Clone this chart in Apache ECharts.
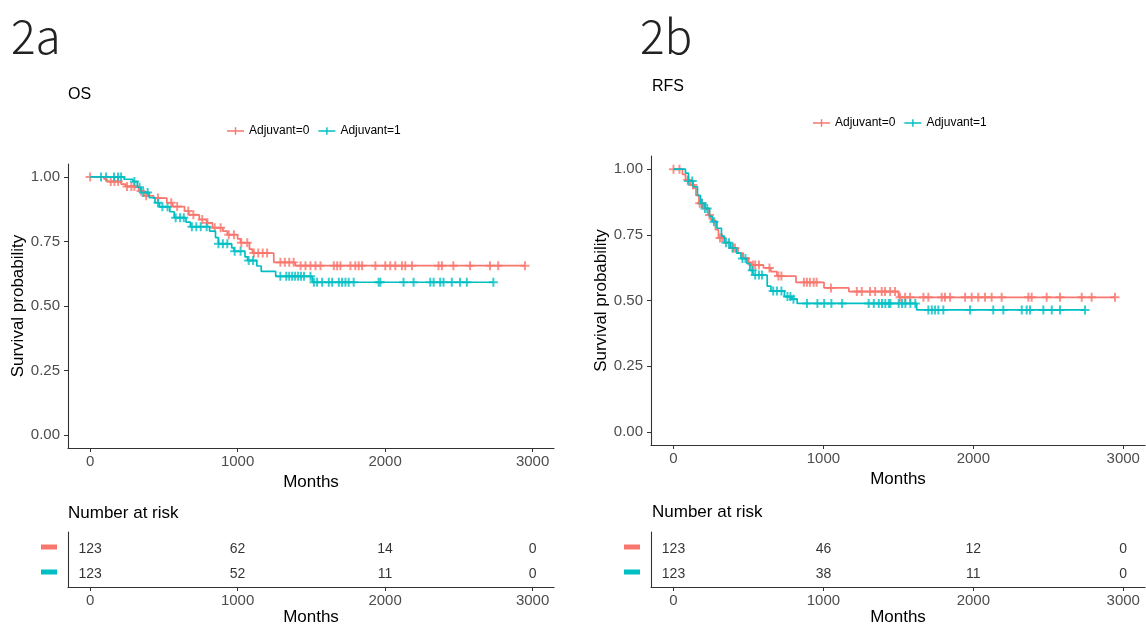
<!DOCTYPE html>
<html>
<head>
<meta charset="utf-8">
<script src="https://cdn.jsdelivr.net/npm/echarts@6/dist/echarts.min.js"></script>
<style>
  html, body { margin: 0; padding: 0; background: #fff; }
  #main { width: 1146px; height: 628px; }
</style>
</head>
<body>
<div id="main"></div>
<script>
// ---- data ----
// OS (2a), Adjuvant=0 : step times / survival after each drop
const osT0 = [0, 95, 115, 210, 240, 330, 365, 430, 520, 560, 640, 670, 740, 790, 830, 900, 930, 1000, 1020, 1080, 1100, 1245, 1390];
const osS0 = [1, 0.991, 0.982, 0.972, 0.963, 0.945, 0.927, 0.918, 0.9, 0.885, 0.868, 0.853, 0.835, 0.822, 0.803, 0.79, 0.776, 0.76, 0.745, 0.72, 0.705, 0.669, 0.656];
const osEnd0 = 2948;
const osCens0 = [0, 140, 165, 190, 250, 280, 300, 345, 380, 460, 550, 590, 665, 700, 760, 795, 845, 885, 940, 975, 1025, 1065, 1110, 1140, 1170, 1200,
  1290, 1320, 1350, 1380, 1427, 1460, 1494, 1528, 1562, 1652, 1675, 1697, 1765, 1798, 1821, 1844, 1934, 2001, 2035, 2069, 2114, 2137, 2182,
  2362, 2385, 2463, 2576, 2711, 2767, 2948];
// OS (2a), Adjuvant=1
const osT1 = [0, 230, 290, 320, 345, 400, 440, 470, 540, 570, 650, 680, 810, 850, 870, 960, 975, 1050, 1068, 1130, 1160, 1258, 1506];
const osS1 = [1, 0.991, 0.982, 0.96, 0.94, 0.92, 0.9, 0.884, 0.865, 0.842, 0.825, 0.807, 0.79, 0.765, 0.741, 0.725, 0.712, 0.69, 0.676, 0.655, 0.634, 0.615, 0.592];
const osEnd1 = 2734;
const osCens1 = [74, 108, 162, 189, 210, 300, 335, 360, 390, 460, 490, 525, 580, 610, 635, 690, 720, 750, 790, 870, 900, 930, 980, 1020, 1075, 1105,
  1290, 1330, 1350, 1370, 1390, 1410, 1430, 1450, 1494, 1517, 1539, 1573, 1618, 1641, 1686, 1708, 1731, 1753, 1787, 1956, 1968, 2125, 2193,
  2306, 2329, 2373, 2396, 2452, 2508, 2554, 2734];

// RFS (2b), Adjuvant=0
const rfsT0 = [0, 60, 80, 110, 135, 150, 170, 200, 230, 250, 280, 300, 340, 380, 430, 465, 500, 520, 600, 650, 690, 817, 1004, 1170, 1501];
const rfsS0 = [1, 0.98, 0.959, 0.94, 0.928, 0.9, 0.87, 0.85, 0.825, 0.806, 0.77, 0.738, 0.72, 0.7, 0.68, 0.662, 0.645, 0.635, 0.624, 0.61, 0.593, 0.569, 0.548, 0.534, 0.512];
const rfsEnd0 = 2945;
const rfsCens0 = [0, 40, 95, 130, 175, 190, 240, 310, 325, 395, 410, 530, 545, 570, 640, 700, 720, 870, 890, 910, 935, 955, 1050,
  1223, 1256, 1311, 1345, 1389, 1411, 1445, 1478, 1511, 1545, 1578, 1667, 1700, 1789, 1811, 1845, 1945, 1989, 2033, 2078, 2122, 2189,
  2367, 2389, 2489, 2578, 2723, 2789, 2945];
// RFS (2b), Adjuvant=1
const rfsT1 = [0, 80, 100, 130, 160, 180, 210, 240, 260, 290, 320, 340, 380, 420, 450, 490, 510, 530, 625, 650, 740, 790, 825, 1622];
const rfsS1 = [1, 0.985, 0.955, 0.933, 0.9, 0.87, 0.85, 0.82, 0.8, 0.775, 0.745, 0.72, 0.7, 0.68, 0.66, 0.64, 0.615, 0.597, 0.555, 0.536, 0.515, 0.505, 0.489, 0.464];
const rfsEnd1 = 2745;
const rfsCens1 = [100, 125, 190, 210, 225, 270, 350, 370, 395, 460, 480, 525, 545, 570, 590, 665, 690, 720, 760, 780, 800, 890, 960, 1005, 1053, 1125,
  1302, 1336, 1369, 1391, 1413, 1436, 1447, 1502, 1524, 1547, 1580, 1613, 1700, 1723, 1745, 1767, 1800, 1978, 2133, 2200, 2323, 2356,
  2378, 2467, 2523, 2578, 2745];

// number at risk tables
const riskTimes = [0, 1000, 2000, 3000];
const osRisk0 = [123, 62, 14, 0];
const osRisk1 = [123, 52, 11, 0];
const rfsRisk0 = [123, 46, 12, 0];
const rfsRisk1 = [123, 38, 11, 0];

const groups = ['Adjuvant=0', 'Adjuvant=1'];
const xTicks = [0, 1000, 2000, 3000];
const yTicks = [0, 0.25, 0.5, 0.75, 1];

// ---- helpers ----
const RED = '#F8766D', TEAL = '#00BFC4';
const FONT = '"Liberation Sans", Arial, sans-serif';
const PLUS = 'path://M3.9,0H6.1V3.9H10V6.1H6.1V10H3.9V6.1H0V3.9H3.9Z';
const LEG_ICON = 'path://M0,4.1H10.1V0H11.9V4.1H22V5.9H11.9V10H10.1V5.9H0Z';

function stepData(t, s, end) {
  const d = t.map((x, i) => [x, s[i]]);
  d.push([end, s[s.length - 1]]);
  return d;
}
function survAt(t, s, x) {
  let v = s[0];
  for (let i = 0; i < t.length; i++) { if (t[i] <= x) v = s[i]; }
  return v;
}
function censData(t, s, cens) {
  return cens.map(c => [c, survAt(t, s, c)]);
}
function riskData(vals, row) {
  return riskTimes.map((x, i) => [x, row, vals[i]]);
}

function kmX(gi) {
  return {
    gridIndex: gi, type: 'value', min: -150, max: 3145,
    axisLine: { onZero: false, lineStyle: { color: '#333', width: 1.1 } },
    axisTick: { customValues: xTicks, length: 4, lineStyle: { color: '#333' } },
    axisLabel: { customValues: xTicks, color: '#4d4d4d', fontSize: 15, margin: 6, fontFamily: FONT,
      formatter: v => String(v) },
    splitLine: { show: false },
    name: 'Months', nameLocation: 'middle', nameGap: 26,
    nameTextStyle: { fontSize: 17, color: '#000', fontFamily: FONT }
  };
}
function kmY(gi) {
  return {
    gridIndex: gi, type: 'value', min: -0.05, max: 1.05,
    axisLine: { show: true, onZero: false, lineStyle: { color: '#333', width: 1.1 } },
    axisTick: { show: true, customValues: yTicks, length: 4, lineStyle: { color: '#333' } },
    axisLabel: { customValues: yTicks, color: '#4d4d4d', fontSize: 15, margin: 8, fontFamily: FONT,
      formatter: v => v.toFixed(2) },
    splitLine: { show: false },
    name: 'Survival probability', nameLocation: 'middle', nameGap: 39, nameRotate: 90,
    nameTextStyle: { fontSize: 17, color: '#000', fontFamily: FONT }
  };
}
function riskX(gi) {
  const a = kmX(gi);
  a.nameGap = 22;
  return a;
}
function riskY(gi) {
  return {
    gridIndex: gi, type: 'value', min: 0.4, max: 2.6,
    axisLine: { show: true, onZero: false, lineStyle: { color: '#333', width: 1.1 } },
    axisTick: { show: false },
    splitLine: { show: false },
    axisLabel: {
      customValues: [1, 2], margin: 11,
      formatter: v => v === 2 ? '{r| }' : '{t| }',
      rich: {
        r: { width: 16, height: 5, lineHeight: 5, fontSize: 4, backgroundColor: RED },
        t: { width: 16, height: 5, lineHeight: 5, fontSize: 4, backgroundColor: TEAL }
      }
    }
  };
}
function lineSeries(name, color, gi, data) {
  return {
    name: name, type: 'line', step: 'end', xAxisIndex: gi, yAxisIndex: gi,
    data: data, showSymbol: false, symbol: PLUS, color: color,
    lineStyle: { color: color, width: 1.7 }, silent: true
  };
}
function censSeries(color, gi, data) {
  return {
    name: 'censor', type: 'scatter', xAxisIndex: gi, yAxisIndex: gi,
    data: data, symbol: PLUS, symbolSize: 9, itemStyle: { color: color }, silent: true
  };
}
function riskSeries(gi, data) {
  return {
    name: 'risk', type: 'scatter', xAxisIndex: gi, yAxisIndex: gi, data: data,
    symbolSize: 1, itemStyle: { color: 'rgba(0,0,0,0)' }, silent: true,
    label: { show: true, position: 'inside', offset: [0, 2], formatter: p => p.value[2],
      color: '#000', fontSize: 14, fontFamily: FONT }
  };
}
function legend(left, top) {
  return {
    data: groups, left: left, top: top, padding: 0, icon: LEG_ICON,
    itemWidth: 17, itemHeight: 9, itemGap: 9,
    textStyle: { fontSize: 12, color: '#000', fontFamily: FONT }
  };
}

const TITLE_FONT = '"Noto Sans CJK KR", "Noto Sans", sans-serif';
const chart = echarts.init(document.getElementById('main'), null, { renderer: 'canvas' });
chart.setOption({
  animation: false,
  backgroundColor: '#fff',
  title: [
    { text: '2a', left: 11, top: 14, padding: 0, textStyle: { fontSize: 46, fontWeight: 300, color: '#222', fontFamily: TITLE_FONT } },
    { text: '2b', left: 640, top: 14, padding: 0, textStyle: { fontSize: 46, fontWeight: 300, color: '#222', fontFamily: TITLE_FONT } },
    { text: 'OS', left: 68, top: 87, padding: 0, textStyle: { fontSize: 16, fontWeight: 'normal', color: '#000', fontFamily: FONT } },
    { text: 'RFS', left: 652, top: 79, padding: 0, textStyle: { fontSize: 16, fontWeight: 'normal', color: '#000', fontFamily: FONT } },
    { text: 'Number at risk', left: 68, top: 505, padding: 0, textStyle: { fontSize: 17, fontWeight: 'normal', color: '#000', fontFamily: FONT } },
    { text: 'Number at risk', left: 652, top: 504, padding: 0, textStyle: { fontSize: 17, fontWeight: 'normal', color: '#000', fontFamily: FONT } }
  ],
  legend: [legend(227, 125), legend(813, 117)],
  grid: [
    { left: 68, top: 164, width: 486, height: 284 },
    { left: 68, top: 532, width: 486, height: 55 },
    { left: 651, top: 156, width: 494, height: 289 },
    { left: 651, top: 532, width: 494, height: 55 }
  ],
  xAxis: [kmX(0), riskX(1), kmX(2), riskX(3)],
  yAxis: [kmY(0), riskY(1), kmY(2), riskY(3)],
  series: [
    lineSeries(groups[0], RED, 0, stepData(osT0, osS0, osEnd0)),
    lineSeries(groups[1], TEAL, 0, stepData(osT1, osS1, osEnd1)),
    censSeries(RED, 0, censData(osT0, osS0, osCens0)),
    censSeries(TEAL, 0, censData(osT1, osS1, osCens1)),
    riskSeries(1, riskData(osRisk0, 2).concat(riskData(osRisk1, 1))),
    lineSeries(groups[0], RED, 2, stepData(rfsT0, rfsS0, rfsEnd0)),
    lineSeries(groups[1], TEAL, 2, stepData(rfsT1, rfsS1, rfsEnd1)),
    censSeries(RED, 2, censData(rfsT0, rfsS0, rfsCens0)),
    censSeries(TEAL, 2, censData(rfsT1, rfsS1, rfsCens1)),
    riskSeries(3, riskData(rfsRisk0, 2).concat(riskData(rfsRisk1, 1)))
  ]
});
</script>
</body>
</html>
